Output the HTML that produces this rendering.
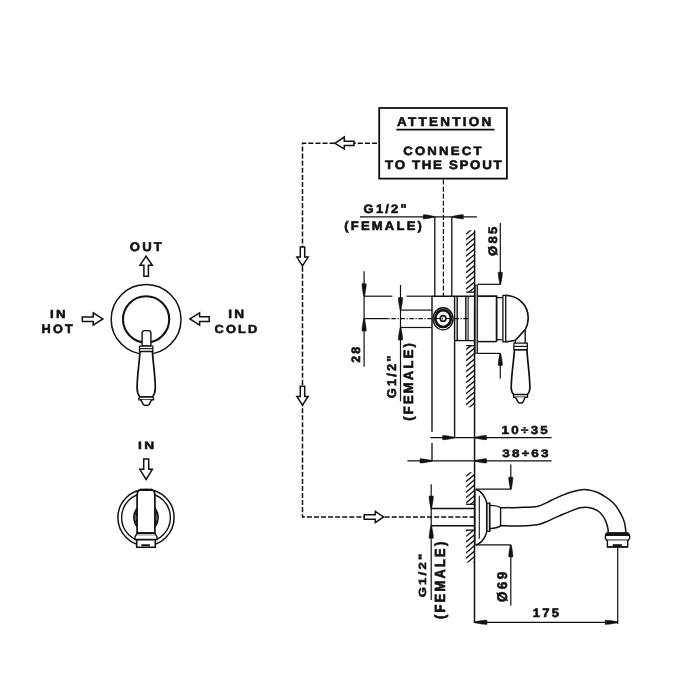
<!DOCTYPE html>
<html><head><meta charset="utf-8"><style>
html,body{margin:0;padding:0;background:#fff;width:700px;height:700px;overflow:hidden}
svg{display:block}
text{font-family:"Liberation Sans",sans-serif;font-weight:bold;fill:#111;text-rendering:geometricPrecision}
</style></head><body>
<svg width="700" height="700" viewBox="0 0 700 700">
<rect width="700" height="700" fill="#fff"/>
<polygon points="146.1,256.2 152.3,265.2 148.4,265.2 148.4,276.3 143.9,276.3 143.9,265.2 140.0,265.2" fill="#fff" stroke="#111" stroke-width="1.5" stroke-linejoin="miter"/>
<polygon points="82.3,316.9 93.2,316.9 93.2,312.8 102.9,319.0 93.2,325.2 93.2,321.5 82.3,321.5" fill="#fff" stroke="#111" stroke-width="1.5" stroke-linejoin="miter"/>
<polygon points="190.0,318.9 199.6,312.9 199.6,316.7 209.2,316.7 209.2,321.6 199.6,321.6 199.6,325.2" fill="#fff" stroke="#111" stroke-width="1.5" stroke-linejoin="miter"/>
<circle cx="146.1" cy="319.4" r="34.9" fill="none" stroke="#111" stroke-width="1.5"/>
<circle cx="146.1" cy="319.3" r="23.1" fill="none" stroke="#111" stroke-width="2.1"/>
<path d="M142.1,346 L142.1,333 Q142.1,330.6 144.6,330.6 L148.4,330.6 Q150.9,330.6 150.9,333 L150.9,346 Z" fill="#fff" stroke="#111" stroke-width="1.4" />
<path d="M140.0,351.3 C139.3,364 137.1,376 137.1,387.8 C137.1,392 138.3,395 139.8,397.0 L152.5,397.0 C154.0,395 155.3,392 155.3,387.8 C155.3,376 153.1,364 152.4,351.3 Z" fill="#fff" stroke="#111" stroke-width="1.7" />
<path d="M139.5,346.0 L152.8,346.0 L152.8,351.3 L139.5,351.3 Z" fill="#fff" stroke="#111" stroke-width="1.25" />
<line x1="139.5" y1="348.65" x2="152.8" y2="348.65" stroke="#111" stroke-width="1.1" />
<path d="M139.8,397.0 L152.5,397.0 Q154.3,398.3 153.5,399.7 L139.0,399.7 Q138.1,398.3 139.8,397.0 Z" fill="#fff" stroke="#111" stroke-width="1.35" />
<path d="M140.7,399.7 L143.4,404.6 Q143.8,405.2 144.6,405.2 L147.8,405.2 Q148.6,405.2 149.0,404.6 L151.7,399.7" fill="#fff" stroke="#111" stroke-width="1.5" />
<polygon points="143.7,458.9 148.7,458.9 148.7,469.3 152.4,469.3 146.1,479.5 139.8,469.3 143.7,469.3" fill="#fff" stroke="#111" stroke-width="1.5" stroke-linejoin="miter"/>
<circle cx="146.0" cy="517.6" r="28.1" fill="none" stroke="#111" stroke-width="1.5"/>
<circle cx="146.0" cy="517.6" r="24.4" fill="none" stroke="#111" stroke-width="1.4"/>
<path d="M137.1,507.8 Q130.4,517.4 137.1,527.2" fill="none" stroke="#111" stroke-width="1.4" />
<path d="M137.1,509.6 Q132.4,517.4 137.1,525.4" fill="none" stroke="#111" stroke-width="1.1" />
<path d="M137.1,511.6 Q134.6,517.4 137.1,523.4" fill="none" stroke="#111" stroke-width="1.0" />
<path d="M154.9,507.8 Q161.6,517.4 154.9,527.2" fill="none" stroke="#111" stroke-width="1.4" />
<path d="M154.9,509.6 Q159.6,517.4 154.9,525.4" fill="none" stroke="#111" stroke-width="1.1" />
<path d="M154.9,511.6 Q157.4,517.4 154.9,523.4" fill="none" stroke="#111" stroke-width="1.0" />
<path d="M137.1,533.2 L137.1,496 C137.1,491.8 138.6,489.8 140.6,489.8 L151.5,489.8 C153.5,489.8 154.9,491.8 154.9,496 L154.9,533.2 Z" fill="#fff" stroke="#111" stroke-width="1.7" />
<line x1="140.0" y1="489.8" x2="152.2" y2="489.8" stroke="#111" stroke-width="2.3" />
<path d="M137.1,533.2 L135.0,537.0 L135.0,539.6 L157.0,539.6 L157.0,537.0 L154.9,533.2 Z" fill="#fff" stroke="#111" stroke-width="1.4" />
<line x1="137.1" y1="533.2" x2="154.9" y2="533.2" stroke="#111" stroke-width="2.0" />
<line x1="136.2" y1="535.2" x2="155.8" y2="535.2" stroke="#111" stroke-width="0.7" stroke-opacity="0.5"/>
<path d="M136.7,539.6 L155.3,539.6 L155.3,547.3 L136.7,547.3 Z" fill="#fff" stroke="#111" stroke-width="1.6" />
<rect x="141.4" y="544.3" width="8.5" height="1.9" fill="#111"/>
<rect x="379.2" y="108.0" width="127.7" height="70.6" fill="none" stroke="#111" stroke-width="1.8"/>
<line x1="396.3" y1="129.6" x2="494.5" y2="129.6" stroke="#111" stroke-width="1.7" />
<path d="M378.8,143.3 L302.5,143.3 L302.5,516.9 L474.0,516.9" fill="none" stroke="#111" stroke-width="1.5" stroke-dasharray="5.07 2.0" stroke-dashoffset="-1.77"/>
<path d="M443.4,179.5 L443.4,296" fill="none" stroke="#111" stroke-width="1.2" stroke-dasharray="5.07 2.0"/>
<polygon points="334.8,143.3 344.3,137.0 344.3,141.2 354.0,141.2 354.0,145.6 344.3,145.6 344.3,148.9" fill="#fff" stroke="#111" stroke-width="1.5" stroke-linejoin="miter"/>
<polygon points="300.3,247.0 304.7,247.0 304.7,257.1 308.1,257.1 302.5,265.8 296.9,257.1 300.3,257.1" fill="#fff" stroke="#111" stroke-width="1.5" stroke-linejoin="miter"/>
<polygon points="300.3,386.3 304.7,386.3 304.7,396.4 308.1,396.4 302.5,405.1 296.9,396.4 300.3,396.4" fill="#fff" stroke="#111" stroke-width="1.5" stroke-linejoin="miter"/>
<polygon points="364.2,514.7 375.3,514.7 375.3,511.3 383.6,516.9 375.3,522.5 375.3,519.2 364.2,519.2" fill="#fff" stroke="#111" stroke-width="1.5" stroke-linejoin="miter"/>
<clipPath id="h1"><rect x="466.1" y="230.3" width="8.5" height="61.89999999999998"/></clipPath>
<path d="M465.10,223.82L475.60,215.18M465.10,229.32L475.60,220.68M465.10,234.82L475.60,226.18M465.10,240.32L475.60,231.68M465.10,245.82L475.60,237.18M465.10,251.32L475.60,242.68M465.10,256.82L475.60,248.18M465.10,262.32L475.60,253.68M465.10,267.82L475.60,259.18M465.10,273.32L475.60,264.68M465.10,278.82L475.60,270.18M465.10,284.32L475.60,275.68M465.10,289.82L475.60,281.18M465.10,295.32L475.60,286.68M465.10,300.82L475.60,292.18M465.10,306.32L475.60,297.68" stroke="#111" stroke-width="1.3" clip-path="url(#h1)" fill="none"/>
<clipPath id="h2"><rect x="466.1" y="345.6" width="8.5" height="61.69999999999999"/></clipPath>
<path d="M465.10,339.32L475.60,330.68M465.10,344.82L475.60,336.18M465.10,350.32L475.60,341.68M465.10,355.82L475.60,347.18M465.10,361.32L475.60,352.68M465.10,366.82L475.60,358.18M465.10,372.32L475.60,363.68M465.10,377.82L475.60,369.18M465.10,383.32L475.60,374.68M465.10,388.82L475.60,380.18M465.10,394.32L475.60,385.68M465.10,399.82L475.60,391.18M465.10,405.32L475.60,396.68M465.10,410.82L475.60,402.18M465.10,416.32L475.60,407.68M465.10,421.82L475.60,413.18" stroke="#111" stroke-width="1.3" clip-path="url(#h2)" fill="none"/>
<clipPath id="h3"><rect x="466.1" y="472.3" width="8.299999999999955" height="32.0"/></clipPath>
<path d="M465.10,466.54L475.40,457.86M465.10,471.84L475.40,463.16M465.10,477.14L475.40,468.46M465.10,482.44L475.40,473.76M465.10,487.74L475.40,479.06M465.10,493.04L475.40,484.36M465.10,498.34L475.40,489.66M465.10,503.64L475.40,494.96M465.10,508.94L475.40,500.26M465.10,514.24L475.40,505.56" stroke="#111" stroke-width="1.3" clip-path="url(#h3)" fill="none"/>
<clipPath id="h4"><rect x="466.1" y="530.0" width="8.299999999999955" height="32.5"/></clipPath>
<path d="M465.10,520.89L475.40,512.21M465.10,526.34L475.40,517.66M465.10,531.79L475.40,523.11M465.10,537.24L475.40,528.56M465.10,542.69L475.40,534.01M465.10,548.14L475.40,539.46M465.10,553.59L475.40,544.91M465.10,559.04L475.40,550.36M465.10,564.49L475.40,555.81M465.10,569.94L475.40,561.26M465.10,575.39L475.40,566.71" stroke="#111" stroke-width="1.3" clip-path="url(#h4)" fill="none"/>
<line x1="474.6" y1="230.3" x2="474.6" y2="296" stroke="#111" stroke-width="1.5" />
<line x1="466.2" y1="292.1" x2="474.6" y2="292.1" stroke="#111" stroke-width="1.3" />
<line x1="466.2" y1="345.7" x2="474.6" y2="345.7" stroke="#111" stroke-width="1.3" />
<line x1="466.2" y1="504.3" x2="474.6" y2="504.3" stroke="#111" stroke-width="1.3" />
<line x1="466.2" y1="530.1" x2="474.6" y2="530.1" stroke="#111" stroke-width="1.3" />
<line x1="474.6" y1="296" x2="474.5" y2="622.8" stroke="#111" stroke-width="1.5" />
<line x1="360.0" y1="216.8" x2="476.9" y2="216.8" stroke="#111" stroke-width="1.2" />
<polygon points="433.80,216.35 428.03,215.12 425.40,214.76 423.30,214.70 423.30,218.90 425.40,218.84 428.03,218.48 433.80,217.25" fill="#111" stroke="#111" stroke-width="0.5" stroke-linejoin="round"/>
<polygon points="452.80,216.35 458.57,215.12 461.20,214.76 463.30,214.70 463.30,218.90 461.20,218.84 458.57,218.48 452.80,217.25" fill="#111" stroke="#111" stroke-width="0.5" stroke-linejoin="round"/>
<line x1="434.8" y1="216.8" x2="434.8" y2="296.3" stroke="#111" stroke-width="1.3" />
<line x1="451.8" y1="216.8" x2="451.8" y2="296.3" stroke="#111" stroke-width="1.3" />
<line x1="432.0" y1="296.3" x2="497.0" y2="296.3" stroke="#111" stroke-width="1.5" />
<line x1="364.1" y1="296.2" x2="392.4" y2="296.2" stroke="#111" stroke-width="1.2" />
<line x1="406.6" y1="296.2" x2="432.0" y2="296.2" stroke="#111" stroke-width="1.2" />
<line x1="364.1" y1="271.3" x2="364.1" y2="366.7" stroke="#111" stroke-width="1.2" />
<polygon points="363.65,296.20 362.42,289.32 362.06,286.20 362.00,283.70 366.20,283.70 366.14,286.20 365.78,289.32 364.55,296.20" fill="#111" stroke="#111" stroke-width="0.5" stroke-linejoin="round"/>
<polygon points="363.65,318.60 362.42,325.48 362.06,328.60 362.00,331.10 366.20,331.10 366.14,328.60 365.78,325.48 364.55,318.60" fill="#111" stroke="#111" stroke-width="0.5" stroke-linejoin="round"/>
<line x1="364.1" y1="318.6" x2="388.5" y2="318.6" stroke="#111" stroke-width="1.2" />
<line x1="388.5" y1="318.6" x2="468.5" y2="318.6" stroke="#111" stroke-width="1.05" stroke-dasharray="1.2 1.6 4.6 1.6"/>
<line x1="400.5" y1="285.0" x2="400.5" y2="401.3" stroke="#111" stroke-width="1.2" />
<polygon points="400.05,310.10 398.82,303.23 398.46,300.10 398.40,297.60 402.60,297.60 402.54,300.10 402.18,303.23 400.95,310.10" fill="#111" stroke="#111" stroke-width="0.5" stroke-linejoin="round"/>
<polygon points="400.05,327.50 398.82,334.38 398.46,337.50 398.40,340.00 402.60,340.00 402.54,337.50 402.18,334.38 400.95,327.50" fill="#111" stroke="#111" stroke-width="0.5" stroke-linejoin="round"/>
<line x1="400.5" y1="310.1" x2="432" y2="310.1" stroke="#111" stroke-width="1.2" />
<line x1="400.5" y1="327.5" x2="432" y2="327.5" stroke="#111" stroke-width="1.2" />
<line x1="432.0" y1="296.3" x2="432.0" y2="431.7" stroke="#111" stroke-width="1.4" />
<line x1="432.0" y1="443.1" x2="432.0" y2="460.9" stroke="#111" stroke-width="1.3" />
<line x1="454.6" y1="296.3" x2="454.6" y2="437.6" stroke="#111" stroke-width="1.4" />
<ellipse cx="443.05" cy="318.8" rx="10.0" ry="11.1" fill="#fff" stroke="#111" stroke-width="1.4"/>
<ellipse cx="443.1" cy="318.6" rx="7.8" ry="8.4" fill="none" stroke="#111" stroke-width="2.7"/>
<line x1="434.0" y1="318.6" x2="452.2" y2="318.6" stroke="#111" stroke-width="1.0" />
<circle cx="443.1" cy="318.4" r="2.8" fill="#fff" stroke="#111" stroke-width="1.6"/>
<ellipse cx="442.5" cy="318.5" rx="0.6" ry="1.0" fill="#111"/>
<line x1="457.2" y1="296.3" x2="457.2" y2="340.8" stroke="#111" stroke-width="1.4" />
<line x1="465.8" y1="296.3" x2="465.8" y2="340.8" stroke="#111" stroke-width="1.4" />
<line x1="468.1" y1="296.3" x2="468.1" y2="340.8" stroke="#111" stroke-width="1.1" />
<line x1="454.6" y1="340.6" x2="474.6" y2="340.6" stroke="#111" stroke-width="1.3" />
<rect x="475.0" y="285.2" width="2.6" height="68.0" fill="#999" stroke="#111" stroke-width="0.9"/>
<line x1="477.4" y1="296.3" x2="496.6" y2="296.3" stroke="#111" stroke-width="1.5" />
<line x1="477.4" y1="341.6" x2="496.6" y2="341.6" stroke="#111" stroke-width="1.5" />
<line x1="496.6" y1="295.6" x2="496.6" y2="341.6" stroke="#111" stroke-width="1.8" />
<path d="M496.6,297.3 Q499.8,297.8 502.9,297.6" fill="none" stroke="#111" stroke-width="1.2" />
<path d="M496.6,339.9 Q499.8,339.5 502.9,340.0" fill="none" stroke="#111" stroke-width="1.2" />
<path d="M502.9,295.3 L505.7,295.3 L505.7,341.9 L502.9,341.9 Z" fill="#fff" stroke="#111" stroke-width="1.3" />
<path d="M505.7,295.4 C517.2,295.4 528.2,304.5 528.2,317.8 C528.2,322.5 527.0,326.5 525.2,329.6 L515.4,340.3 C512,341.3 508.6,341.6 505.7,341.6" fill="none" stroke="#111" stroke-width="1.6" />
<line x1="525.2" y1="329.6" x2="525.2" y2="343.1" stroke="#111" stroke-width="1.4" />
<line x1="515.4" y1="340.3" x2="515.4" y2="343.1" stroke="#111" stroke-width="1.3" />
<path d="M514.5,349.6 C513.6,362 511.2,376 511.2,388.3 C511.3,391.5 512.6,393.5 513.9,394.6 L527.3,394.6 C528.6,393.5 529.8,391.5 529.9,388.3 C529.9,376 527.6,362 526.9,349.6 Z" fill="#fff" stroke="#111" stroke-width="1.7" />
<path d="M513.9,343.1 L527.3,343.1 L527.3,349.6 L513.9,349.6 Z" fill="#fff" stroke="#111" stroke-width="1.25" />
<line x1="513.9" y1="346.4" x2="527.3" y2="346.4" stroke="#111" stroke-width="1.2" />
<path d="M513.6,394.6 L527.5,394.6 L527.5,397.3 L513.6,397.3 Z" fill="#fff" stroke="#111" stroke-width="1.4" />
<path d="M515.4,397.3 L518.2,402.2 Q518.7,402.9 519.5,402.9 L521.6,402.9 Q522.4,402.9 522.9,402.2 L525.1,397.3" fill="#fff" stroke="#111" stroke-width="1.5" />
<line x1="477.4" y1="284.3" x2="500.3" y2="284.3" stroke="#111" stroke-width="1.2" />
<line x1="500.3" y1="223.0" x2="500.3" y2="284.3" stroke="#111" stroke-width="1.2" />
<polygon points="499.85,284.30 498.62,277.70 498.26,274.70 498.20,272.30 502.40,272.30 502.34,274.70 501.98,277.70 500.75,284.30" fill="#111" stroke="#111" stroke-width="0.5" stroke-linejoin="round"/>
<line x1="477.4" y1="353.4" x2="500.3" y2="353.4" stroke="#111" stroke-width="1.2" />
<line x1="500.3" y1="353.4" x2="500.3" y2="378.5" stroke="#111" stroke-width="1.2" />
<polygon points="499.85,353.40 498.62,360.00 498.26,363.00 498.20,365.40 502.40,365.40 502.34,363.00 501.98,360.00 500.75,353.40" fill="#111" stroke="#111" stroke-width="0.5" stroke-linejoin="round"/>
<line x1="430.3" y1="437.6" x2="551.6" y2="437.6" stroke="#111" stroke-width="1.2" />
<polygon points="454.60,437.15 448.00,435.92 445.00,435.56 442.60,435.50 442.60,439.70 445.00,439.64 448.00,439.28 454.60,438.05" fill="#111" stroke="#111" stroke-width="0.5" stroke-linejoin="round"/>
<polygon points="474.60,437.15 481.20,435.92 484.20,435.56 486.60,435.50 486.60,439.70 484.20,439.64 481.20,439.28 474.60,438.05" fill="#111" stroke="#111" stroke-width="0.5" stroke-linejoin="round"/>
<line x1="407.4" y1="460.9" x2="551.6" y2="460.9" stroke="#111" stroke-width="1.2" />
<polygon points="432.00,460.45 425.40,459.22 422.40,458.86 420.00,458.80 420.00,463.00 422.40,462.94 425.40,462.58 432.00,461.35" fill="#111" stroke="#111" stroke-width="0.5" stroke-linejoin="round"/>
<polygon points="474.60,460.45 481.20,459.22 484.20,458.86 486.60,458.80 486.60,463.00 484.20,462.94 481.20,462.58 474.60,461.35" fill="#111" stroke="#111" stroke-width="0.5" stroke-linejoin="round"/>
<line x1="431.2" y1="508.5" x2="474.4" y2="508.5" stroke="#111" stroke-width="1.4" />
<line x1="431.2" y1="525.8" x2="474.4" y2="525.8" stroke="#111" stroke-width="1.4" />
<line x1="431.2" y1="484.3" x2="431.2" y2="600.0" stroke="#111" stroke-width="1.2" />
<polygon points="430.75,508.50 429.52,501.62 429.16,498.50 429.10,496.00 433.30,496.00 433.24,498.50 432.88,501.62 431.65,508.50" fill="#111" stroke="#111" stroke-width="0.5" stroke-linejoin="round"/>
<polygon points="430.75,525.80 429.52,532.67 429.16,535.80 429.10,538.30 433.30,538.30 433.24,535.80 432.88,532.67 431.65,525.80" fill="#111" stroke="#111" stroke-width="0.5" stroke-linejoin="round"/>
<line x1="475.7" y1="489.6" x2="475.7" y2="545.0" stroke="#111" stroke-width="1.2" />
<path d="M475.7,489.6 C480.5,490.2 485.3,496.0 486.8,503.1 L486.8,531.4 C485.3,538.5 480.5,544.3 475.7,544.9" fill="#fff" stroke="#111" stroke-width="1.5" />
<line x1="479.3" y1="495.7" x2="479.3" y2="538.8" stroke="#111" stroke-width="1.1" />
<line x1="486.6" y1="503.1" x2="489.6" y2="503.1" stroke="#111" stroke-width="1.2" />
<line x1="486.6" y1="531.4" x2="489.6" y2="531.4" stroke="#111" stroke-width="1.2" />
<line x1="486.6" y1="503.1" x2="486.6" y2="531.4" stroke="#111" stroke-width="1.1" />
<line x1="489.7" y1="502.6" x2="489.7" y2="531.9" stroke="#111" stroke-width="1.7" />
<path d="M489.8,505.4 C494.5,505.5 498.5,506.3 500.6,507.7 L500.6,525.9 C498.5,527.3 494.5,528.5 489.8,528.6" fill="none" stroke="#111" stroke-width="1.4" />
<path d="M500.60,507.70 C503.83,507.65 513.92,507.62 520.00,507.40 C526.08,507.18 532.82,507.12 537.10,506.40 C541.38,505.68 542.83,504.35 545.70,503.10 C548.57,501.85 551.43,500.23 554.30,498.90 C557.17,497.57 560.05,496.25 562.90,495.10 C565.75,493.95 568.55,492.87 571.40,492.00 C574.25,491.13 577.13,490.25 580.00,489.90 C582.87,489.55 585.75,489.50 588.60,489.90 C591.45,490.30 594.25,491.10 597.10,492.30 C599.95,493.50 602.83,495.15 605.70,497.10 C608.57,499.05 611.73,501.13 614.30,504.00 C616.87,506.87 619.38,511.15 621.10,514.30 C622.82,517.45 623.78,519.77 624.60,522.90 C625.42,526.03 625.77,531.40 626.00,533.10" fill="none" stroke="#111" stroke-width="1.5" />
<path d="M500.60,525.80 C503.83,525.82 513.92,526.07 520.00,525.90 C526.08,525.73 532.82,525.45 537.10,524.80 C541.38,524.15 542.83,523.12 545.70,522.00 C548.57,520.88 551.43,519.38 554.30,518.10 C557.17,516.82 560.05,515.50 562.90,514.30 C565.75,513.10 568.55,511.98 571.40,510.90 C574.25,509.82 577.13,508.38 580.00,507.80 C582.87,507.22 585.75,506.97 588.60,507.40 C591.45,507.83 594.82,509.12 597.10,510.40 C599.38,511.68 600.87,513.32 602.30,515.10 C603.73,516.88 604.78,518.95 605.70,521.10 C606.62,523.25 607.37,526.00 607.80,528.00 C608.23,530.00 608.22,532.25 608.30,533.10" fill="none" stroke="#111" stroke-width="1.5" />
<path d="M607.5,532.9 L627.4,532.9 Q629.7,533.6 629.7,536.9 Q629.7,540.0 627.4,540.4 L607.6,540.4 Q605.3,540.0 605.3,536.9 Q605.3,533.6 607.5,532.9 Z" fill="#fff" stroke="#111" stroke-width="1.3" />
<path d="M607.5,532.4 L627.4,532.4 Q629.2,533.4 629.5,535.9 L605.5,535.9 Q605.8,533.4 607.5,532.4 Z" fill="#161616" stroke="#111" stroke-width="0" />
<line x1="606.5" y1="540.4" x2="628.5" y2="540.4" stroke="#111" stroke-width="1.5" />
<path d="M607.4,540.4 L607.4,546.9 L627.7,546.9 L627.7,540.4" fill="#fff" stroke="#111" stroke-width="1.4" />
<line x1="607.0" y1="546.9" x2="628.1" y2="546.9" stroke="#111" stroke-width="1.6" />
<rect x="612.8" y="544.2" width="9.0" height="2.2" fill="#111"/>
<line x1="475.7" y1="489.2" x2="510.8" y2="489.2" stroke="#111" stroke-width="1.2" />
<line x1="475.7" y1="544.9" x2="510.8" y2="544.9" stroke="#111" stroke-width="1.2" />
<line x1="510.8" y1="464.5" x2="510.8" y2="489.2" stroke="#111" stroke-width="1.2" />
<polygon points="510.35,489.20 509.12,482.60 508.76,479.60 508.70,477.20 512.90,477.20 512.84,479.60 512.48,482.60 511.25,489.20" fill="#111" stroke="#111" stroke-width="0.5" stroke-linejoin="round"/>
<line x1="510.8" y1="544.9" x2="510.8" y2="605.6" stroke="#111" stroke-width="1.2" />
<polygon points="510.35,544.90 509.12,551.50 508.76,554.50 508.70,556.90 512.90,556.90 512.84,554.50 512.48,551.50 511.25,544.90" fill="#111" stroke="#111" stroke-width="0.5" stroke-linejoin="round"/>
<line x1="617.7" y1="547.1" x2="617.7" y2="624.0" stroke="#111" stroke-width="1.2" />
<line x1="474.5" y1="622.3" x2="617.7" y2="622.3" stroke="#111" stroke-width="1.2" />
<polygon points="474.50,621.85 481.38,620.62 484.50,620.26 487.00,620.20 487.00,624.40 484.50,624.34 481.38,623.98 474.50,622.75" fill="#111" stroke="#111" stroke-width="0.5" stroke-linejoin="round"/>
<polygon points="617.70,621.85 610.83,620.62 607.70,620.26 605.20,620.20 605.20,624.40 607.70,624.34 610.83,623.98 617.70,622.75" fill="#111" stroke="#111" stroke-width="0.5" stroke-linejoin="round"/>
<g style="opacity:0.999">
<text transform="translate(129.78,250.75) scale(0.13083,0.12609)" font-size="100" letter-spacing="17.0" stroke="#111" stroke-width="4.67">OUT</text>
<text transform="translate(50.07,317.95) scale(0.13301,0.11594)" font-size="100" letter-spacing="17.0" stroke="#111" stroke-width="4.83">IN</text>
<text transform="translate(41.51,332.65) scale(0.12743,0.12174)" font-size="100" letter-spacing="17.0" stroke="#111" stroke-width="4.82">HOT</text>
<text transform="translate(228.24,317.95) scale(0.13689,0.11884)" font-size="100" letter-spacing="17.0" stroke="#111" stroke-width="4.70">IN</text>
<text transform="translate(214.49,332.55) scale(0.12822,0.11594)" font-size="100" letter-spacing="17.0" stroke="#111" stroke-width="4.92">COLD</text>
<text transform="translate(138.03,448.65) scale(0.13786,0.10435)" font-size="100" letter-spacing="17.0" stroke="#111" stroke-width="5.00">IN</text>
<text transform="translate(397.00,125.75) scale(0.13444,0.12754)" font-size="100" letter-spacing="17.0" stroke="#111" stroke-width="4.58">ATTENTION</text>
<text transform="translate(403.17,154.75) scale(0.13147,0.12029)" font-size="100" letter-spacing="17.0" stroke="#111" stroke-width="4.77">CONNECT</text>
<text transform="translate(385.07,168.65) scale(0.13414,0.12319)" font-size="100" letter-spacing="12.0" stroke="#111" stroke-width="4.67">TO THE SPOUT</text>
<text transform="translate(363.58,213.25) scale(0.12981,0.12174)" font-size="100" letter-spacing="17.0" stroke="#111" stroke-width="4.77">G1/2&quot;</text>
<text transform="translate(344.15,229.55) scale(0.13032,0.12174)" font-size="100" letter-spacing="17.0" stroke="#111" stroke-width="4.76">(FEMALE)</text>
<text transform="translate(496.80,255.92) rotate(-90) scale(0.13102,0.12319)" font-size="100" letter-spacing="17.0" stroke="#111" stroke-width="4.72">Ø85</text>
<text transform="translate(360.30,362.87) rotate(-90) scale(0.12459,0.12174)" font-size="100" letter-spacing="17.0" stroke="#111" stroke-width="4.87">28</text>
<text transform="translate(396.20,398.21) rotate(-90) scale(0.12795,0.12754)" font-size="100" letter-spacing="17.0" stroke="#111" stroke-width="4.70">G1/2&quot;</text>
<text transform="translate(413.40,420.85) rotate(-90) scale(0.13032,0.13478)" font-size="100" letter-spacing="17.0" stroke="#111" stroke-width="4.53">(FEMALE)</text>
<text transform="translate(501.60,433.65) scale(0.13383,0.11594)" font-size="100" letter-spacing="17.0" stroke="#111" stroke-width="4.82">10÷35</text>
<text transform="translate(502.13,456.85) scale(0.13441,0.10870)" font-size="100" letter-spacing="17.0" stroke="#111" stroke-width="4.96">38÷63</text>
<text transform="translate(426.10,597.32) rotate(-90) scale(0.13106,0.10435)" font-size="100" letter-spacing="17.0" stroke="#111" stroke-width="5.13">G1/2&quot;</text>
<text transform="translate(445.40,618.95) rotate(-90) scale(0.12930,0.14638)" font-size="100" letter-spacing="17.0" stroke="#111" stroke-width="4.36">(FEMALE)</text>
<text transform="translate(507.30,601.94) rotate(-90) scale(0.13488,0.14058)" font-size="100" letter-spacing="17.0" stroke="#111" stroke-width="4.36">Ø69</text>
<text transform="translate(532.82,617.15) scale(0.13073,0.12174)" font-size="100" letter-spacing="17.0" stroke="#111" stroke-width="4.76">175</text>
</g>
</svg>
</body></html>
